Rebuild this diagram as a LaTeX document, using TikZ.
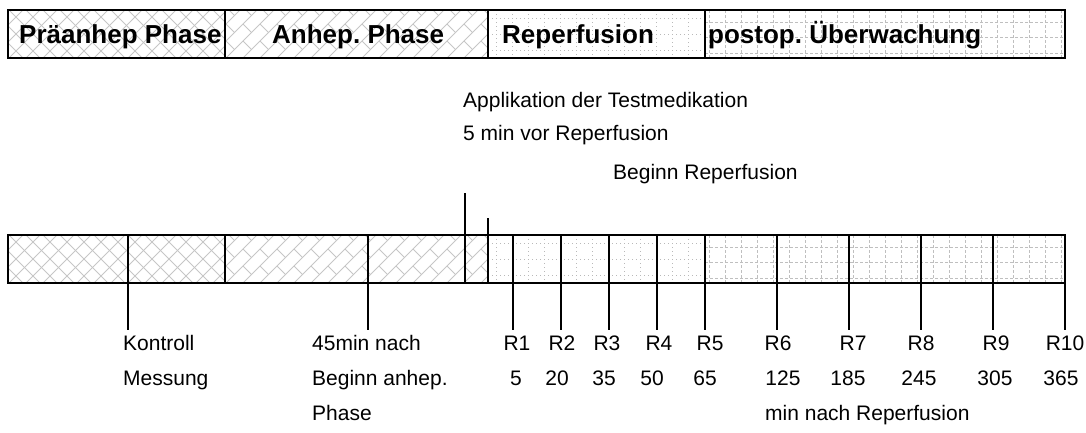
\documentclass[tikz,border=0pt]{standalone}
\usepackage{fontspec}
\setmainfont{Liberation Sans}
\frenchspacing
\newcommand\diamondhatch[4]{%
  \begin{scope}
    \clip (#1,#2) rectangle (#3,#4);
    \foreach \k [evaluate=\k as \s using #1-50+\k*17] in {0,...,26}{
      \draw[pat] (\s,#4) -- ++(50,-50);
      \draw[pat] (\s,#2) -- ++(50,50);
    }
  \end{scope}}
\newcommand\brickhatch[4]{%
  \begin{scope}
    \clip (#1,#2) rectangle (#3,#4);
    \foreach \k [evaluate=\k as \s using #1-50+\k*17] in {0,...,26}{
      \draw[pat] (\s,#4) -- ++(60,-60);
      \foreach \j in {-1,...,4}{
        \pgfmathsetmacro\t{\j*17}
        \draw[pat] (\s+\t,#4-\t) -- ++(8.5,8.5);
      }
    }
  \end{scope}}
\newcommand\dotgrid[4]{%
  \begin{scope}
    \clip (#1,#2) rectangle (#3,#4);
    \foreach \k [evaluate=\k as \s using #1+8+\k*16] in {0,...,14}{
      \draw[dpat] (\s,#2) -- (\s,#4);
    }
    \foreach \r in {8,24,40}{
      \draw[dpat] (#1,#2+\r) -- (#3,#2+\r);
    }
  \end{scope}}
\newcommand\dashgrid[4]{%
  \begin{scope}
    \clip (#1,#2) rectangle (#3,#4);
    \foreach \k [evaluate=\k as \s using #1+4+\k*16] in {0,...,23}{
      \draw[gpat] (\s,#2) -- (\s,#4);
    }
    \foreach \r in {12,27.5,43}{
      \draw[gpat] (#1,#2+\r) -- (#3,#2+\r);
    }
  \end{scope}}
\begin{document}
\begin{tikzpicture}[x=1pt,y=-1pt,
  pat/.style={gray!45,line width=0.9pt},
  dpat/.style={gray!55,line width=1pt,dash pattern=on 1pt off 3pt},
  gpat/.style={gray!50,line width=0.9pt,dash pattern=on 3pt off 2pt},
  bar/.style={draw=black,line width=1.6pt},
  divider/.style={line width=1.6pt},
  big/.style={font=\fontsize{26}{30}\selectfont\bfseries,anchor=base west,inner sep=0pt},
  lbl/.style={font=\fontsize{21}{25}\selectfont,anchor=base west,inner sep=0pt},
  clbl/.style={font=\fontsize{21}{25}\selectfont,anchor=base,inner sep=0pt}]
\useasboundingbox (0,0) rectangle (1086,432);
% ---------- top bar ----------
\diamondhatch{8}{10}{225}{58}
\brickhatch{225}{10}{488}{58}
\dotgrid{488}{10}{705}{58}
\dashgrid{705}{10}{1065}{58}
\draw[bar] (8,10) rectangle (1065,58);
\foreach \x in {225,488,705}{\draw[divider] (\x,10) -- (\x,58);}
\node[big] (ph1) at (19,43) {Präanhep Phase};
\node[big] (ph2) at (272,43) {Anhep. Phase};
\node[big] (ph3) at (502,43) {Reperfusion};
\node[big] (ph4) at (708,43) {postop. Überwachung};
% ---------- bottom bar ----------
\diamondhatch{8}{235}{225}{283}
\brickhatch{225}{235}{488}{283}
\dotgrid{488}{235}{705}{283}
\dashgrid{705}{235}{1065}{283}
\draw[bar] (8,235) rectangle (1065,283);
\draw[divider] (225,235) -- (225,283);
% markers above
\coordinate (appTop) at (465,193);
\coordinate (appBot) at (465,283);
\coordinate (repTop) at (488,218);
\coordinate (repBot) at (488,283);
\draw[divider] (appTop) -- (appBot);
\draw[divider] (repTop) -- (repBot);
\node[lbl] (app1) at (463,107) {Applikation der Testmedikation};
\node[lbl] (app2) at (463,140) {5 min vor Reperfusion};
\node[lbl] (rep) at (613,179) {Beginn Reperfusion};
% ticks below
\foreach \x [count=\i] in {128,368,513,561,609,657,705,777,849,921,993,1065}{
  \coordinate (tt\i) at (\x,235);
  \coordinate (tb\i) at (\x,330);
  \draw[divider] (tt\i) -- (tb\i);
}
\node[lbl] (k1) at (123,350) {Kontroll};
\node[lbl] (k2) at (123,385) {Messung};
\node[lbl] (a1) at (312,350) {45min nach};
\node[lbl] (a2) at (312,385) {Beginn anhep.};
\node[lbl] (a3) at (312,420) {Phase};
\foreach \x/\t [count=\i] in {517/R1,562/R2,607/R3,659/R4,710/R5,778/R6,853/R7,921/R8,996/R9,1065/R10}{
  \node[clbl] (r\i) at (\x,350) {\t};
}
\foreach \x/\t [count=\i] in {516/5,557/20,604/35,652/50,705/65,783/125,848/185,919/245,995/305,1061/365}{
  \node[clbl] (n\i) at (\x,385) {\t};
}
\node[lbl] (mn) at (765,420) {min nach Reperfusion};
\end{tikzpicture}
\end{document}
